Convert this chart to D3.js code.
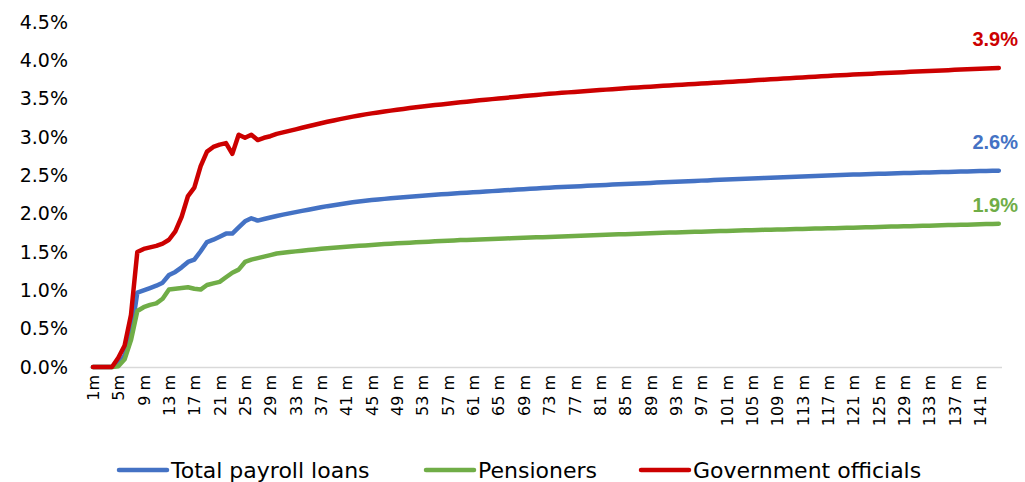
<!DOCTYPE html>
<html>
<head>
<meta charset="utf-8">
<script src="https://cdn.jsdelivr.net/npm/d3@7"></script>
<style>
  body { margin: 0; background: #fff; }
  text { font-family: "DejaVu Sans", sans-serif; fill: #000; }
</style>
</head>
<body>
<div id="chart"></div>
<script>
const width = 1025
const height = 482

// months on the x axis (1m .. 144m)
const months = d3.range(1, 145).map(i => (i < 9 ? i + 'm' : i + ' m'))
const yTicks = [0, 0.5, 1, 1.5, 2, 2.5, 3, 3.5, 4, 4.5]

// cumulative rates, %
const totalPayroll = [
  0, 0, 0, 0, 0.03, 0.15, 0.42, 0.97, 1.00, 1.03,
  1.06, 1.10, 1.20, 1.24, 1.30, 1.37, 1.40, 1.51, 1.63, 1.66,
  1.70, 1.74, 1.74, 1.82, 1.90, 1.94, 1.91, 1.93, 1.95, 1.970,
  1.987, 2.004, 2.020, 2.036, 2.052, 2.068, 2.083, 2.098, 2.111, 2.124,
  2.136, 2.148, 2.159, 2.168, 2.177, 2.185, 2.193, 2.200, 2.207, 2.214,
  2.221, 2.228, 2.234, 2.240, 2.246, 2.252, 2.258, 2.264, 2.269, 2.274,
  2.279, 2.284, 2.289, 2.294, 2.299, 2.304, 2.309, 2.314, 2.319, 2.324,
  2.329, 2.334, 2.339, 2.343, 2.347, 2.351, 2.355, 2.359, 2.363, 2.367,
  2.371, 2.375, 2.379, 2.383, 2.387, 2.391, 2.394, 2.398, 2.401, 2.405,
  2.409, 2.412, 2.416, 2.420, 2.423, 2.427, 2.431, 2.434, 2.438, 2.442,
  2.445, 2.449, 2.452, 2.456, 2.459, 2.463, 2.466, 2.469, 2.473, 2.476,
  2.479, 2.482, 2.486, 2.489, 2.492, 2.495, 2.498, 2.501, 2.504, 2.507,
  2.510, 2.512, 2.515, 2.517, 2.520, 2.522, 2.525, 2.527, 2.529, 2.532,
  2.534, 2.536, 2.538, 2.541, 2.543, 2.545, 2.547, 2.549, 2.551, 2.553,
  2.555, 2.557, 2.559, 2.561
]
const pensioners = [
  0, 0, 0, 0, 0.01, 0.10, 0.35, 0.73, 0.78, 0.81,
  0.83, 0.89, 1.01, 1.02, 1.03, 1.04, 1.02, 1.01, 1.07, 1.09,
  1.11, 1.17, 1.23, 1.27, 1.37, 1.40, 1.42, 1.44, 1.46, 1.480,
  1.490, 1.499, 1.508, 1.517, 1.525, 1.533, 1.541, 1.548, 1.555, 1.562,
  1.568, 1.574, 1.580, 1.586, 1.592, 1.598, 1.603, 1.608, 1.613, 1.618,
  1.622, 1.627, 1.631, 1.635, 1.639, 1.643, 1.647, 1.651, 1.655, 1.658,
  1.661, 1.664, 1.667, 1.670, 1.673, 1.676, 1.679, 1.682, 1.685, 1.688,
  1.691, 1.694, 1.697, 1.700, 1.703, 1.706, 1.709, 1.712, 1.715, 1.718,
  1.721, 1.724, 1.727, 1.730, 1.733, 1.736, 1.739, 1.742, 1.745, 1.748,
  1.750, 1.753, 1.755, 1.758, 1.760, 1.763, 1.765, 1.768, 1.770, 1.773,
  1.775, 1.778, 1.780, 1.783, 1.785, 1.787, 1.789, 1.791, 1.793, 1.795,
  1.797, 1.799, 1.801, 1.803, 1.805, 1.807, 1.809, 1.811, 1.813, 1.815,
  1.817, 1.819, 1.822, 1.824, 1.826, 1.828, 1.831, 1.833, 1.835, 1.837,
  1.840, 1.842, 1.844, 1.846, 1.848, 1.851, 1.853, 1.855, 1.857, 1.859,
  1.862, 1.864, 1.866, 1.868
]
const govOfficials = [
  0, 0, 0, 0, 0.12, 0.28, 0.68, 1.50, 1.54, 1.56,
  1.58, 1.61, 1.66, 1.77, 1.96, 2.23, 2.34, 2.62, 2.81, 2.87,
  2.90, 2.92, 2.78, 3.03, 2.99, 3.03, 2.96, 2.99, 3.01, 3.04,
  3.060, 3.080, 3.100, 3.120, 3.140, 3.160, 3.180, 3.198, 3.216, 3.233,
  3.250, 3.266, 3.281, 3.295, 3.308, 3.320, 3.332, 3.344, 3.355, 3.366,
  3.377, 3.387, 3.397, 3.407, 3.416, 3.425, 3.434, 3.443, 3.452, 3.461,
  3.469, 3.478, 3.486, 3.494, 3.502, 3.510, 3.518, 3.526, 3.534, 3.541,
  3.549, 3.556, 3.563, 3.569, 3.576, 3.582, 3.588, 3.594, 3.600, 3.606,
  3.612, 3.618, 3.624, 3.629, 3.635, 3.641, 3.646, 3.652, 3.657, 3.662,
  3.667, 3.672, 3.677, 3.682, 3.687, 3.692, 3.697, 3.702, 3.707, 3.712,
  3.717, 3.722, 3.727, 3.732, 3.737, 3.742, 3.747, 3.752, 3.757, 3.762,
  3.767, 3.772, 3.777, 3.782, 3.787, 3.792, 3.797, 3.801, 3.806, 3.810,
  3.814, 3.818, 3.822, 3.826, 3.830, 3.834, 3.838, 3.842, 3.846, 3.850,
  3.853, 3.857, 3.861, 3.865, 3.868, 3.872, 3.876, 3.879, 3.883, 3.886,
  3.890, 3.893, 3.897, 3.900
]

const seriesNames = ['Total payroll loans', 'Pensioners', 'Government officials']
const seriesColors = ['#4472c4', '#70ad47', '#cc0000']
const seriesValues = [totalPayroll, pensioners, govOfficials]
const endLabels = ['2.6%', '1.9%', '3.9%']

const margin = { left: 89.8, right: 23, top: 22, bottom: 115 }

const svg = d3.select('#chart').append('svg')
  .attr('width', width)
  .attr('height', height)

// Scales
const xScale = d3.scalePoint()
  .domain(months)
  .range([margin.left, width - margin.right])
  .padding(0.5)
const yScale = d3.scaleLinear()
  .domain([0, 4.5])
  .range([height - margin.bottom, margin.top])

// y axis labels (no axis line, no gridlines)
const yAxis = svg.append('g')
  .attr('transform', 'translate(68,0)')
  .call(d3.axisLeft(yScale).tickValues(yTicks).tickSize(0).tickPadding(0)
    .tickFormat(d => d.toFixed(1) + '%'))
yAxis.select('.domain').remove()
yAxis.selectAll('text')
  .style('font-size', '19px')
  .style('font-family', '"DejaVu Sans", sans-serif')
  .attr('fill', '#000')

// x axis: baseline plus every 4th month, rotated
const xAxis = svg.append('g')
  .attr('transform', `translate(0,${yScale(0)})`)
  .call(d3.axisBottom(xScale)
    .tickValues(months.filter((d, i) => i % 4 === 0))
    .tickSize(0))
xAxis.select('.domain')
  .attr('d', `M${margin.left},0.5H${width - margin.right}`)
  .attr('stroke', '#d9d9d9')
  .attr('stroke-width', 1.5)
xAxis.selectAll('text')
  .style('font-size', '16px')
  .style('font-family', '"DejaVu Sans", sans-serif')
  .attr('fill', '#000')
  .attr('text-anchor', 'end')
  .attr('transform', 'rotate(-90)')
  .attr('x', -8)
  .attr('y', 0)
  .attr('dy', '0.35em')

// lines
const line = d3.line()
  .x((d, i) => xScale(months[i]))
  .y(d => yScale(d))

svg.selectAll('path.series')
  .data(seriesValues)
  .join('path')
  .attr('class', 'series')
  .attr('fill', 'none')
  .attr('stroke', (d, i) => seriesColors[i])
  .attr('stroke-width', 4.5)
  .attr('stroke-linejoin', 'round')
  .attr('stroke-linecap', 'round')
  .attr('d', line)

// end labels
const labelDy = [-29, -19, -29]
svg.selectAll('text.endlabel')
  .data(seriesValues)
  .join('text')
  .attr('class', 'endlabel')
  .attr('x', 1018)
  .attr('y', (d, i) => yScale(d[d.length - 1]) + labelDy[i])
  .attr('text-anchor', 'end')
  .attr('dy', '0.35em')
  .style('font-family', '"Liberation Sans", Arial, sans-serif')
  .style('font-weight', 'bold')
  .style('font-size', '20px')
  .style('fill', (d, i) => seriesColors[i])
  .text((d, i) => endLabels[i])

// legend
const legendX = [119, 426, 641]
const legend = svg.append('g').attr('transform', 'translate(0,470)')
const item = legend.selectAll('g')
  .data(seriesNames)
  .join('g')
  .attr('transform', (d, i) => `translate(${legendX[i]},0)`)
item.append('line')
  .attr('x1', 0)
  .attr('x2', 48)
  .attr('stroke', (d, i) => seriesColors[i])
  .attr('stroke-width', 4.5)
  .attr('stroke-linecap', 'round')
item.append('text')
  .attr('x', 52)
  .attr('dy', '0.35em')
  .style('font-size', '22px')
  .text(d => d)
</script>
</body>
</html>
